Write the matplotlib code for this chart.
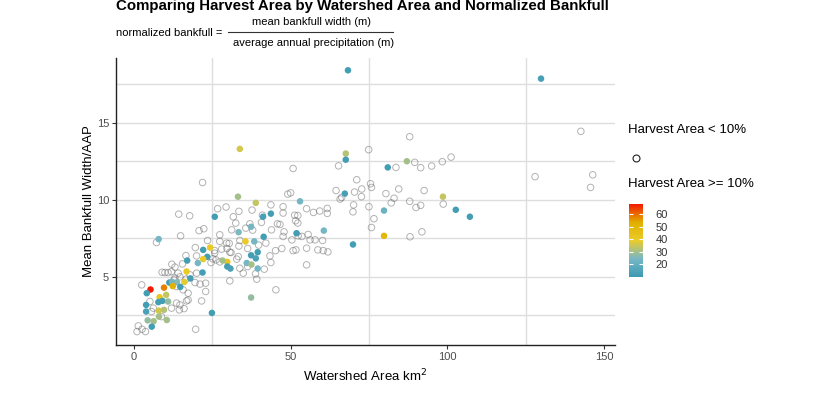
import numpy as np
import matplotlib
matplotlib.use("Agg")
from matplotlib import pyplot as plt
from matplotlib.colors import LinearSegmentedColormap
from matplotlib.lines import Line2D

plt.rcParams['font.family'] = ['Liberation Sans', 'DejaVu Sans']

# watersheds with harvest area < 10% (open circles)
low_area = [142.6, 128, 146.4, 145.7, 88, 101.2, 98.4, 95, 91.5, 89.6, 83.6,
            92.6, 88, 90, 91.5, 98.7, 88.1, 91.9,
            74.9, 65.3, 50.8, 71.1, 75.5, 75.8, 72.7, 70.4, 64.5, 80.4, 83, 84.5, 82.1,
            50, 49.1, 66.3, 65.8, 72.6, 70.1, 69.9, 75, 76.6, 75.8,
            43.7, 47.6, 47.6, 40.7, 45.8, 46.6, 51.3, 52.3, 51.6, 52.3, 55.1, 57.3, 59.3, 61.7, 61.7,
            47.9, 47.6, 50.4, 52.4, 53.6, 55.6, 56.2, 57.8, 60.2,
            50.8, 51.7, 55.1, 58.7, 60.4, 61.9, 45.2, 47.2, 43.4, 43.7, 55.1, 41,
            21.9, 14.3, 17.8, 26.7, 29.4, 33.5, 31.7, 32.5, 37, 37.7,
            20.8, 22.3, 14.9, 27.4, 23.5, 27.4, 30.4, 33.8, 25.7, 30.6, 33.5, 36.3, 39.8, 42.1,
            19.6, 20, 16.6, 12.1, 15.5, 25.2, 32.8, 37.9, 35.7, 43.9,
            7.2, 25.8, 28, 29.7, 31, 26.2, 27.4, 13.1, 9, 9.9, 10.9, 12, 14.1, 13.1, 14.7,
            19.5, 21.1, 22.9, 22.9, 17.3, 13.6, 14.7, 12, 2.5, 5.1, 6.2, 5.6, 8.8,
            1.4, 2.6, 3.7, 1, 19.7, 13.6, 15.7, 17.3, 29.6,
            12.8, 20, 24.6, 14.5, 16.8, 21.6, 16, 17.9, 16.6, 33.3, 33.8, 34.9, 39.2, 30.6,
            36.3, 38.8, 41.6, 31.2, 45.3]
low_bank = [14.44, 11.5, 11.62, 10.8, 14.09, 12.77, 12.47, 12.19, 12.08, 12.43, 12.1,
            10.6, 9.9, 9.5, 9.64, 9.72, 7.6, 7.92,
            13.25, 12.2, 12.03, 11.3, 11.04, 10.8, 10.7, 10.5, 10.6, 10.4, 10.1, 10.7, 9.8,
            10.45, 10.37, 10.15, 10.05, 10.2, 9.67, 9.22, 9.55, 8.77, 8.2,
            9.67, 9.55, 9.14, 8.53, 8.44, 8.4, 9.0, 8.98, 8.64, 8.49, 9.42, 9.18, 9.27, 9.44, 9.12,
            7.92, 7.62, 7.4, 7.66, 7.62, 7.75, 7.4, 7.4, 7.36,
            6.7, 6.75, 6.86, 6.75, 6.7, 6.62, 6.7, 6.84, 6.36, 5.93, 5.78, 9.0,
            11.12, 9.07, 8.96, 9.42, 9.53, 9.25, 8.9, 8.49, 8.44, 9.33,
            8.0, 8.12, 7.66, 7.73, 7.36, 7.3, 7.17, 7.36, 6.71, 6.6, 7.0, 6.84, 7.06, 7.19,
            6.9, 6.36, 6.38, 5.82, 5.84, 6.17, 6.15, 8.03, 8.16, 8.05,
            7.23, 6.54, 6.8, 6.84, 6.58, 6.1, 5.97, 5.63, 5.3, 5.28, 5.28, 5.34, 5.24, 4.92, 5.0,
            4.63, 4.53, 4.59, 4.05, 3.5, 3.3, 3.18, 2.97, 4.48, 3.4, 2.97, 2.75, 2.42,
            1.82, 1.6, 1.45, 1.45, 1.6, 4.37, 4.16, 3.94, 7.19,
            4.8, 5.24, 5.93, 2.86, 3.44, 3.44, 2.94, 5.13, 4.85, 6.32, 5.56, 5.24, 4.85, 4.74,
            5.67, 5.2, 5.5, 8.05, 4.16]

# watersheds with harvest area >= 10% (filled, coloured by harvest %)
high_area = [68.3, 129.9, 33.8, 67.6, 67.6, 87.1, 81.0, 98.6, 33.2, 38.9, 67.3, 102.7, 107.2,
             79.8, 53, 43.7, 41.2, 25.8, 60.6, 69.9, 79.8,
             7.9, 33.4, 37.4, 41.4, 35.6, 38.4, 39.5, 37.4, 38.9, 22.1, 24.3, 23.4, 22.1, 17.0,
             29.8, 28.3, 20.4, 29.8, 36, 37.5, 39.5, 30.8, 51.9,
             5.3, 9.6, 4.1, 8.2, 10.3, 11.3, 12.2, 13.7, 16.1, 12.4, 14.8, 18, 16.8, 21.9,
             7.8, 9.1, 3.9, 7.9, 9.6, 10.9, 3.9, 8.0, 10.5, 4.4, 6.3, 5.7, 24.9, 37.4]
high_bank = [18.4, 17.86, 13.3, 13.0, 12.6, 12.5, 12.1, 10.2, 10.2, 9.8, 10.4, 9.35, 8.9,
             9.3, 9.9, 9.1, 8.9, 8.9, 8.0, 7.1, 7.66,
             7.45, 7.9, 8.25, 7.6, 7.3, 7.3, 6.6, 6.4, 6.2, 6.75, 6.9, 6.3, 6.15, 6.06,
             5.97, 6.06, 5.9, 5.67, 5.9, 5.8, 5.54, 5.54, 7.83,
             4.18, 4.3, 3.94, 3.68, 3.83, 4.63, 4.67, 4.65, 4.67, 4.4, 4.35, 4.9, 5.35, 5.28,
             3.36, 3.44, 3.18, 2.81, 2.86, 3.4, 2.75, 2.42, 2.2, 2.18, 2.12, 1.77, 2.66, 3.66]
high_pct = [12, 13, 36, 32, 12, 30, 12, 34, 30, 34, 13, 12, 12,
            22, 24, 12, 13, 12, 24, 12, 50,
            24, 25, 24, 12, 40, 24, 12, 12, 14, 12, 40, 12, 40, 12,
            42, 30, 24, 12, 24, 30, 24, 14, 12,
            68, 58, 12, 42, 34, 12, 24, 26, 38, 52, 12, 12, 40, 12,
            12, 12, 12, 36, 32, 28, 14, 30, 30, 28, 30, 12, 12, 28]

zissou = LinearSegmentedColormap.from_list(
    'zissou', ['#3B9AB2', '#78B7C5', '#EBCC2A', '#E1AF00', '#F21A00'])

fig = plt.figure(figsize=(8.2, 3.97), dpi=100)
ax = fig.add_axes([0.1415, 0.131, 0.6085, 0.723])

ax.scatter(low_area, low_bank, s=22, facecolors='none', edgecolors='#666666',
           linewidths=0.7, alpha=0.5, zorder=3)
sc = ax.scatter(high_area, high_bank, c=high_pct, cmap=zissou, vmin=10, vmax=68,
                s=22, edgecolors='none', zorder=4)

ax.set_xlim(-5.7, 153.5)
ax.set_ylim(0.58, 19.2)
ax.set_xticks([0, 50, 100, 150])
ax.set_yticks([5, 10, 15])
ax.set_xticks([25, 75, 125], minor=True)
ax.set_yticks([2.5, 7.5, 12.5, 17.5], minor=True)
ax.grid(which='minor', axis='x', color='#DEDEDE', linewidth=1)
ax.grid(which='both', axis='y', color='#DEDEDE', linewidth=1)
ax.set_axisbelow(True)
ax.tick_params(which='minor', length=0)
ax.tick_params(which='major', length=3, color='#333333', labelsize=8,
               labelcolor='#4D4D4D', pad=2)
for s in ['top', 'right']:
    ax.spines[s].set_visible(False)
for s in ['left', 'bottom']:
    ax.spines[s].set_color('#222222')
    ax.spines[s].set_linewidth(1)

ax.set_xlabel('Watershed Area km$^2$', fontsize=9.5, labelpad=4)
ax.set_ylabel('Mean Bankfull Width/AAP', fontsize=9.5, labelpad=1)

# title and formula subtitle
fig.text(116 / 820, 1 - 10 / 397, 'Comparing Harvest Area by Watershed Area and Normalized Bankfull',
         fontsize=10.8, fontweight='bold', va='baseline', ha='left')
fig.text(116 / 820, 1 - 33 / 397, 'normalized bankfull =', fontsize=8, va='center', ha='left')
fig.text(312 / 820, 1 - 22 / 397, 'mean bankfull width (m)', fontsize=8, va='center', ha='center')
fig.text(314 / 820, 1 - 43 / 397, 'average annual precipitation (m)', fontsize=8,
         va='center', ha='center')
fig.add_artist(Line2D([228 / 820, 393 / 820], [1 - 32 / 397, 1 - 32 / 397],
                      transform=fig.transFigure, color='#333333', linewidth=0.8))

# legend
fig.text(628 / 820, 1 - 130 / 397, 'Harvest Area < 10%', fontsize=9.5, va='center', ha='left')
fig.add_artist(Line2D([636 / 820], [1 - 158 / 397], transform=fig.transFigure, marker='o',
                      markersize=5, markerfacecolor='none', markeredgecolor='#222222',
                      markeredgewidth=0.8, linestyle='none'))
fig.text(628 / 820, 1 - 184 / 397, 'Harvest Area >= 10%', fontsize=9.5, va='center', ha='left')

cax = fig.add_axes([629 / 820, 1 - 277 / 397, 14 / 820, 73 / 397])
cb = fig.colorbar(sc, cax=cax, ticks=[20, 30, 40, 50, 60])
cb.outline.set_visible(False)
cax.tick_params(direction='in', length=3, color='white', width=0.8,
                labelsize=8, labelcolor='#333333', pad=9, left=True, right=True)

fig.savefig('out.png', dpi=100)
